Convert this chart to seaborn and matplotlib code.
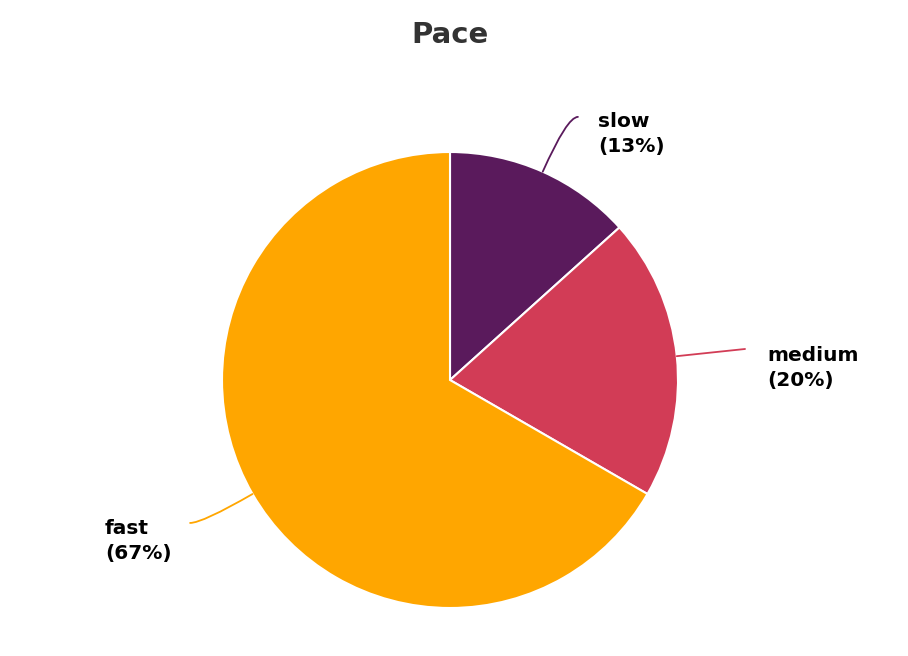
import numpy as np
import matplotlib
matplotlib.use("Agg")
import matplotlib.pyplot as plt
import seaborn as sns

# data (counts per pace category)
labels = ["slow", "medium", "fast"]
counts = [2, 3, 10]
colors = ["#5a1a5c", "#d23c56", "#ffa600"]

# label text anchor (data units, pie radius = 1) and leader line end
text_pos = [(0.649, 1.079), (1.390, 0.053), (-1.513, -0.706)]
line_end = [(0.561, 1.154), (1.294, 0.136), (-1.140, -0.627)]

sns.set_theme(style="white")
plt.rcParams["font.family"] = ["DejaVu Sans"]

fig = plt.figure(figsize=(9.08, 6.56), dpi=100)
ax = fig.add_axes([0, 0, 1, 1])

wedges, _ = ax.pie(
    counts,
    colors=colors,
    startangle=90,
    counterclock=False,
    radius=1,
    wedgeprops=dict(edgecolor="white", linewidth=1.5),
)

total = sum(counts)
for w, lab, val, tp, le, c in zip(wedges, labels, counts, text_pos, line_end, colors):
    mid = np.deg2rad((w.theta1 + w.theta2) / 2)
    start = (np.cos(mid), np.sin(mid))
    ax.annotate(
        "",
        xy=start,
        xytext=le,
        arrowprops=dict(
            arrowstyle="-",
            color=c,
            lw=1.3,
            shrinkA=0,
            shrinkB=0,
            connectionstyle="angle3,angleA=0,angleB=%.1f" % np.rad2deg(mid),
        ),
    )
    pct = round(100 * val / total)
    ax.text(
        tp[0], tp[1], f"{lab}\n({pct}%)",
        ha="left", va="center",
        fontsize=14.5, fontweight="bold", color="black",
        linespacing=1.35,
    )

ax.text(0, 1.515, "Pace", ha="center", va="center",
        fontsize=21, fontweight="bold", color="#333333")

ax.set_xlim(-450 / 228, 458 / 228)
ax.set_ylim(-276 / 228, 380 / 228)
ax.set_aspect("equal")
ax.axis("off")

fig.savefig("out.png", dpi=100)
